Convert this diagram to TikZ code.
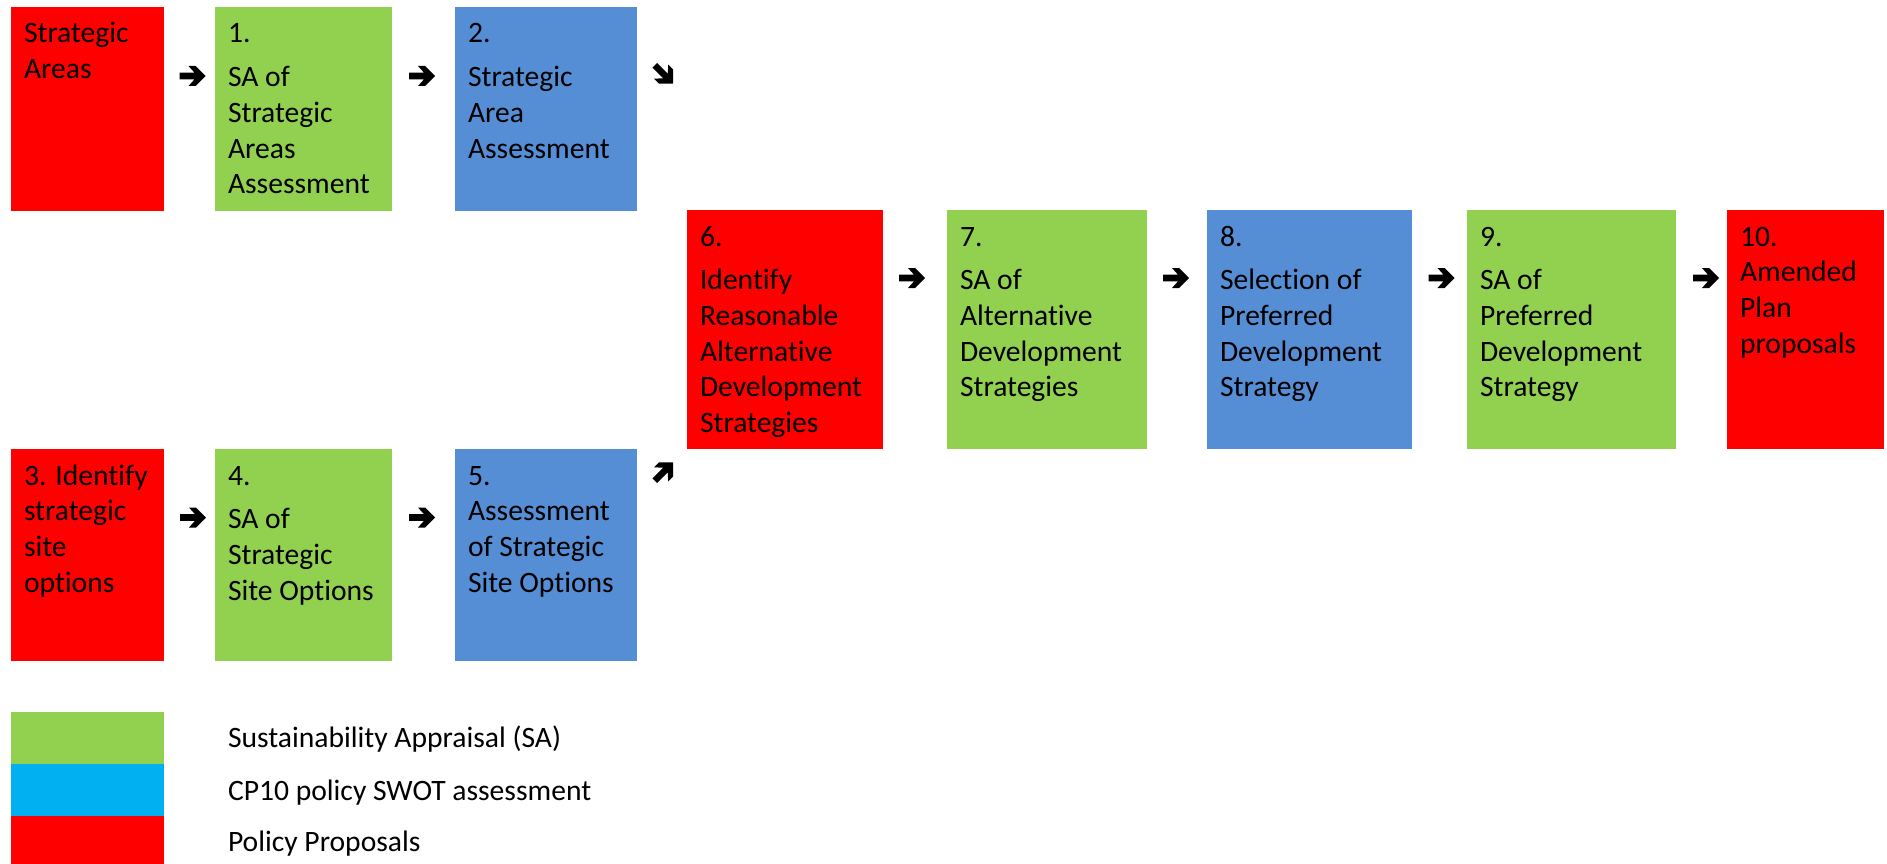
\documentclass[tikz,border=0pt]{standalone}
\usepackage{fontspec}
\setmainfont{Carlito}[Ligatures={NoCommon,NoRare,NoContextual}]
\usetikzlibrary{calc}
\definecolor{pred}{HTML}{FF0000}
\definecolor{pgreen}{HTML}{92D050}
\definecolor{pblue}{HTML}{558ED5}
\definecolor{pcyan}{HTML}{00B0F0}
\tikzset{
  box/.style={rectangle, draw=none, inner sep=0pt, outer sep=0pt, anchor=north west},
  txt/.style={anchor=base west, inner sep=0pt, outer sep=0pt, align=flush left, text width=230pt,
    font=\fontsize{29.6}{35.7}\selectfont},
  legtxt/.style={anchor=base west, inner sep=0pt, outer sep=0pt,
    font=\fontsize{29.6}{35.7}\selectfont},
  warrow/.pic={\fill[black] (-13,-3.3) -- (2,-3.3) -- (-4,-10) -- (3,-10) -- (13,0)
     -- (3,10) -- (-4,10) -- (2,3.3) -- (-13,3.3) -- cycle;}
}
\begin{document}
\begin{tikzpicture}[x=1pt,y=-1pt]
\useasboundingbox (0,0) rectangle (1887,864);
% row 1
\node[box, fill=pred,   minimum width=153pt, minimum height=204pt] (b0) at (11,7) {};
\node[box, fill=pgreen, minimum width=177pt, minimum height=204pt] (b1) at (215,7) {};
\node[box, fill=pblue,  minimum width=182pt, minimum height=204pt] (b2) at (455,7) {};
% row 3
\node[box, fill=pred,   minimum width=153pt, minimum height=212pt] (b3) at (11,449) {};
\node[box, fill=pgreen, minimum width=177pt, minimum height=212pt] (b4) at (215,449) {};
\node[box, fill=pblue,  minimum width=182pt, minimum height=212pt] (b5) at (455,449) {};
% row 2
\node[box, fill=pred,   minimum width=196pt, minimum height=239pt] (b6) at (687,210) {};
\node[box, fill=pgreen, minimum width=200pt, minimum height=239pt] (b7) at (947,210) {};
\node[box, fill=pblue,  minimum width=205pt, minimum height=239pt] (b8) at (1207,210) {};
\node[box, fill=pgreen, minimum width=209pt, minimum height=239pt] (b9) at (1467,210) {};
\node[box, fill=pred,   minimum width=157pt, minimum height=239pt] (b10) at (1727,210) {};
% texts
\node[txt] (t0) at ($(b0.north west)+(13,36)$) {Strategic\\Areas};
\node[txt] (t1) at ($(b1.north west)+(13,36)$) {1.\\[8pt]SA of\\Strategic\\Areas\\Assessment};
\node[txt] (t2) at ($(b2.north west)+(13,36)$) {2.\\[8pt]Strategic\\Area\\Assessment};
\node[txt] (t3) at ($(b3.north west)+(13,36)$) {3. Identify\\strategic\\site\\options};
\node[txt] (t4) at ($(b4.north west)+(13,36)$) {4.\\[8pt]SA of\\Strategic\\Site Options};
\node[txt] (t5) at ($(b5.north west)+(13,36)$) {5.\\Assessment\\of Strategic\\Site Options};
\node[txt] (t6) at ($(b6.north west)+(13,36)$) {6.\\[8pt]Identify\\Reasonable\\Alternative\\Development\\Strategies};
\node[txt] (t7) at ($(b7.north west)+(13,36)$) {7.\\[8pt]SA of\\Alternative\\Development\\Strategies};
\node[txt] (t8) at ($(b8.north west)+(13,36)$) {8.\\[8pt]Selection of\\Preferred\\Development\\Strategy};
\node[txt] (t9) at ($(b9.north west)+(13,36)$) {9.\\[8pt]SA of\\Preferred\\Development\\Strategy};
\node[txt] (t10) at ($(b10.north west)+(13,36)$) {10.\\Amended\\Plan\\proposals};
% arrows
\coordinate (a01) at (192.5,76);
\coordinate (a12) at (422,76);
\coordinate (a26) at (664,74.5);
\coordinate (a34) at (193,517.5);
\coordinate (a45) at (422,517.5);
\coordinate (a56) at (664,471.5);
\coordinate (a67) at (912,278);
\coordinate (a78) at (1176,278);
\coordinate (a89) at (1441.5,278);
\coordinate (a910) at (1706,278);
\pic at (a01) {warrow};
\pic at (a12) {warrow};
\pic[rotate=-45] at (a26) {warrow};
\pic at (a34) {warrow};
\pic at (a45) {warrow};
\pic[rotate=45] at (a56) {warrow};
\pic at (a67) {warrow};
\pic at (a78) {warrow};
\pic at (a89) {warrow};
\pic at (a910) {warrow};
% legend
\node[box, fill=pgreen, minimum width=153pt, minimum height=52pt] (lg) at (11,712) {};
\node[box, fill=pcyan,  minimum width=153pt, minimum height=52pt] (lb) at (11,764) {};
\node[box, fill=pred,   minimum width=153pt, minimum height=48pt] (lr) at (11,816) {};
\node[legtxt] (lgt) at (228,747) {Sustainability Appraisal (SA)};
\node[legtxt] (lbt) at (228,800) {CP10 policy SWOT assessment};
\node[legtxt] (lrt) at (228,851) {Policy Proposals};
\end{tikzpicture}
\end{document}
